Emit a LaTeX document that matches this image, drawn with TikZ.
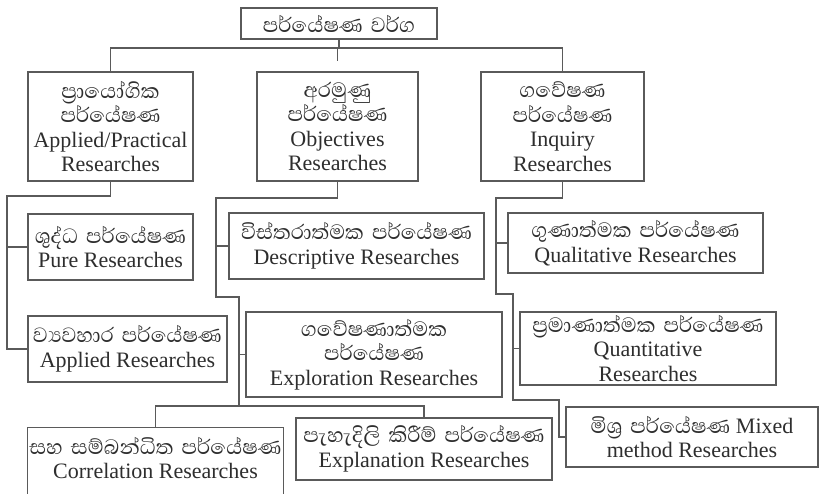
\documentclass[tikz,border=0pt]{standalone}
\usepackage{fontspec}
\setmainfont{Liberation Serif}
\newfontfamily\sinhalafont[Script=Sinhala,Scale=1.2,WordSpace=1.6]{Abhaya Libre}
\newcommand\snh[1]{{\sinhalafont #1}}
\definecolor{linegray}{HTML}{5A5A5A}
\definecolor{textgray}{HTML}{2E2E2E}
\tikzset{
  box/.style={draw=linegray, line width=1.1pt, text=textgray, align=center, inner sep=0pt,
    font=\fontsize{22}{24.5}\selectfont},
  conn/.style={draw=linegray, line width=1.1pt},
}
\begin{document}
\begin{tikzpicture}[x=1pt,y=-1pt]
\useasboundingbox[fill=white] (0,0) rectangle (819,494);
% nodes
\node[box, minimum width=196pt, minimum height=31pt] (top) at (339,23.5) {\snh{පර්යේෂණ වර්ග}};
\node[box, minimum width=165pt, minimum height=109pt] (app) at (110.5,126.5) {\snh{ප්‍රායෝගික}\\\snh{පර්යේෂණ}\\Applied/Practical\\Researches};
\node[box, minimum width=161pt, minimum height=109pt] (obj) at (337.5,126.5) {\snh{අරමුණු}\\\snh{පර්යේෂණ}\\Objectives\\Researches};
\node[box, minimum width=163pt, minimum height=109pt] (inq) at (562.5,126.5) {\snh{ගවේෂණ}\\\snh{පර්යේෂණ}\\Inquiry\\Researches};
\node[box, minimum width=165pt, minimum height=66pt] (pure) at (110.5,247) {\snh{ශුද්ධ පර්යේෂණ}\\Pure Researches};
\node[box, minimum width=199pt, minimum height=66pt] (appl) at (127.5,349) {\snh{ව්‍යවහාර පර්යේෂණ}\\Applied Researches};
\node[box, minimum width=255pt, minimum height=66pt] (desc) at (356.5,246) {\snh{විස්තරාත්මක පර්යේෂණ}\\Descriptive Researches};
\node[box, minimum width=256pt, minimum height=85pt] (expl) at (374,354.5) {\snh{ගවේෂණාත්මක}\\\snh{පර්යේෂණ}\\Exploration Researches};
\node[box, draw=none, minimum width=255pt, minimum height=60pt] (corr) at (155.5,458) {\snh{සහ සම්බන්ධිත පර්යේෂණ}\\Correlation Researches};
\draw[conn] (corr.west |- 0,494) -- (corr.north west) -- (corr.north east) -- (corr.east |- 0,494);
\node[box, minimum width=256pt, minimum height=62pt] (expla) at (424,449) {\snh{පැහැදිලි කිරීම් පර්යේෂණ}\\Explanation Researches};
\node[box, minimum width=255pt, minimum height=60pt] (qual) at (635.5,243) {\snh{ගුණාත්මක පර්යේෂණ}\\Qualitative Researches};
\node[box, minimum width=256pt, minimum height=73pt] (quan) at (648,348.5) {\snh{ප්‍රමාණාත්මක පර්යේෂණ}\\Quantitative\\Researches};
\node[box, minimum width=252pt, minimum height=60pt] (mix) at (692,437) {\snh{මිශ්‍ර පර්යේෂණ} Mixed\\method Researches};
% top bus
\coordinate (bus) at (0,48);
\draw[conn] (top.south) -- (top.south |- bus);
\draw[conn] (app.north) -- (app.north |- bus) -- (inq.north |- bus) -- (inq.north);
\draw[conn] (obj.north |- bus) -- ([yshift=10pt]obj.north);
% left column
\coordinate (L1) at (7,196);
\draw[conn] (app.south) -- (app.south |- L1) -- (L1) |- (appl.west);
\draw[conn] (L1 |- pure.west) -- (pure.west);
% middle column
\coordinate (M1) at (216,198);
\coordinate (M2) at (239,297);
\coordinate (M3) at (239,406);
\draw[conn] (obj.south) -- (obj.south |- M1) -- (M1) -- (M1 |- M2) -- (M2) -- (M3);
\draw[conn] (M1 |- desc.west) -- (desc.west);
\draw[conn] (M2 |- expl.west) -- (expl.west);
\draw[conn] (corr.north) -- (corr.north |- M3) -- (expla.north |- M3) -- (expla.north);
% right column
\coordinate (R1) at (496,198);
\coordinate (R2) at (513,294);
\coordinate (R3) at (559,400);
\draw[conn] (inq.south) -- (inq.south |- R1) -- (R1) -- (R1 |- R2) -- (R2) -- (R2 |- R3) -- (R3) |- (mix.west);
\draw[conn] (R1 |- qual.west) -- (qual.west);
\draw[conn] (R2 |- quan.west) -- (quan.west);
\end{tikzpicture}
\end{document}
